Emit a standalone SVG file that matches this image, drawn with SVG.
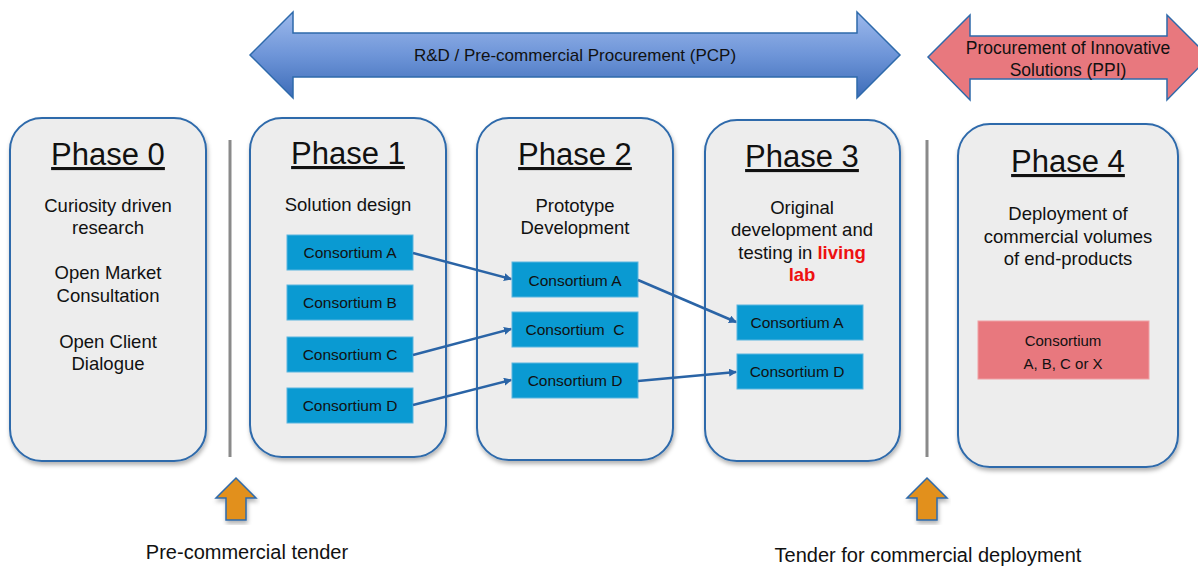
<svg xmlns="http://www.w3.org/2000/svg" width="1198" height="566" viewBox="0 0 1198 566">
<defs>
<linearGradient id="gb" x1="0" y1="0" x2="0" y2="1">
<stop offset="0" stop-color="#9DB9EC"/>
<stop offset="0.5" stop-color="#6E95D8"/>
<stop offset="1" stop-color="#3D6CB8"/>
</linearGradient>
<filter id="sh" x="-10%" y="-10%" width="120%" height="120%">
<feDropShadow dx="1" dy="3" stdDeviation="2" flood-color="#000" flood-opacity="0.3"/>
</filter>
<marker id="ah" markerWidth="8" markerHeight="8" refX="7" refY="4" orient="auto" markerUnits="userSpaceOnUse" viewBox="0 0 8 8">
<path d="M0,0 L8,4 L0,8 Z" fill="#2A64A6"/>
</marker>
</defs>
<style>
text{font-family:"Liberation Sans",Arial,sans-serif;fill:#111}
.phase{fill:#EDEDED;stroke:#2E6AAB;stroke-width:2}
.title{font-size:31px;text-anchor:middle;text-decoration:underline}
.desc{font-size:18.5px;text-anchor:middle}
.cons{fill:#0A9AD2;stroke:#5BB6E0;stroke-width:1}
.ct{font-size:15.5px;text-anchor:middle}
.sep{stroke:#8A8A8A;stroke-width:3}
.conn{stroke:#2A64A6;stroke-width:2.5;fill:none;marker-end:url(#ah)}
.up{fill:#E2901E;stroke:#2E6AAB;stroke-width:1.5}
</style>

<g id="pcp-arrow">
<path d="M250,55 L293,12 L293,33 L857,33 L857,12 L900,55 L857,98 L857,77 L293,77 L293,98 Z" fill="url(#gb)" stroke="#2E6AAB" stroke-width="1.5"/>
<text x="575" y="61" style="font-size:17px;text-anchor:middle">R&amp;D / Pre-commercial Procurement (PCP)</text>
</g>

<g id="ppi-arrow">
<path d="M928,57 L970,15 L970,36 L1167,36 L1167,15 L1209,57 L1167,100 L1167,79 L970,79 L970,100 Z" fill="#E8787E" stroke="#2E6AAB" stroke-width="1.5"/>
<text x="1068" y="54" style="font-size:17.5px;text-anchor:middle">Procurement of Innovative</text>
<text x="1068" y="76" style="font-size:17.5px;text-anchor:middle">Solutions (PPI)</text>
</g>

<g id="phase0">
<rect class="phase" x="10" y="118" width="196" height="343" rx="32" filter="url(#sh)"/>
<text class="title" x="108" y="165">Phase 0</text>
<text class="desc" x="108" y="212">Curiosity driven</text>
<text class="desc" x="108" y="234">research</text>
<text class="desc" x="108" y="279">Open Market</text>
<text class="desc" x="108" y="302">Consultation</text>
<text class="desc" x="108" y="348">Open Client</text>
<text class="desc" x="108" y="370">Dialogue</text>
</g>

<g id="phase1">
<rect class="phase" x="250" y="118" width="196" height="339" rx="32" filter="url(#sh)"/>
<text class="title" x="348" y="164">Phase 1</text>
<text class="desc" x="348" y="211">Solution design</text>
</g>
<g id="p1-consortium-a"><rect class="cons" x="287" y="235" width="126" height="35"/><text class="ct" x="350" y="258">Consortium A</text></g>
<g id="p1-consortium-b"><rect class="cons" x="287" y="285" width="126" height="35"/><text class="ct" x="350" y="308">Consortium B</text></g>
<g id="p1-consortium-c"><rect class="cons" x="287" y="337" width="126" height="35"/><text class="ct" x="350" y="360">Consortium C</text></g>
<g id="p1-consortium-d"><rect class="cons" x="287" y="388" width="126" height="35"/><text class="ct" x="350" y="411">Consortium D</text></g>

<g id="phase2">
<rect class="phase" x="477" y="118" width="196" height="342" rx="32" filter="url(#sh)"/>
<text class="title" x="575" y="165">Phase 2</text>
<text class="desc" x="575" y="212">Prototype</text>
<text class="desc" x="575" y="234">Development</text>
</g>
<g id="p2-consortium-a"><rect class="cons" x="512" y="262" width="126" height="35"/><text class="ct" x="575" y="286">Consortium A</text></g>
<g id="p2-consortium-c"><rect class="cons" x="512" y="312" width="126" height="35"/><text class="ct" x="575" y="335" xml:space="preserve">Consortium  C</text></g>
<g id="p2-consortium-d"><rect class="cons" x="512" y="363" width="126" height="35"/><text class="ct" x="575" y="386">Consortium D</text></g>

<g id="phase3">
<rect class="phase" x="705" y="120" width="195" height="341" rx="32" filter="url(#sh)"/>
<text class="title" x="802" y="167">Phase 3</text>
<text class="desc" x="802" y="214">Original</text>
<text class="desc" x="802" y="236">development and</text>
<text class="desc" x="802" y="259">testing in <tspan style="fill:#EE1111;font-weight:bold">living</tspan></text>
<text class="desc" x="802" y="281" style="fill:#EE1111;font-weight:bold">lab</text>
</g>
<g id="p3-consortium-a"><rect class="cons" x="737" y="305" width="126" height="35"/><text class="ct" x="797" y="328">Consortium A</text></g>
<g id="p3-consortium-d"><rect class="cons" x="737" y="354" width="126" height="35"/><text class="ct" x="797" y="377">Consortium D</text></g>

<g id="phase4">
<rect class="phase" x="958" y="124" width="220" height="343" rx="32" filter="url(#sh)"/>
<text class="title" x="1068" y="172">Phase 4</text>
<text class="desc" x="1068" y="220">Deployment of</text>
<text class="desc" x="1068" y="243">commercial volumes</text>
<text class="desc" x="1068" y="265">of end-products</text>
</g>
<g id="p4-consortium"><rect x="978" y="321" width="171" height="58" fill="#E8787E" stroke="#F0A0A4" stroke-width="1"/>
<text class="ct" x="1063" y="346" style="font-size:15px">Consortium</text>
<text class="ct" x="1063" y="369" style="font-size:15px">A, B, C or X</text></g>

<g id="separators">
<line class="sep" x1="230" y1="140" x2="230" y2="457"/>
<line class="sep" x1="927" y1="140" x2="927" y2="457"/>
</g>

<g id="connectors">
<line class="conn" x1="413" y1="253" x2="511" y2="279"/>
<line class="conn" x1="413" y1="355" x2="511" y2="329"/>
<line class="conn" x1="413" y1="405" x2="511" y2="380"/>
<line class="conn" x1="638" y1="280" x2="736" y2="322"/>
<line class="conn" x1="638" y1="381" x2="736" y2="372"/>
</g>

<g id="tender-pcp">
<path class="up" d="M236,478 L256,498 L246,498 L246,520 L226,520 L226,498 L216,498 Z" filter="url(#sh)"/>
<text x="247" y="559" style="font-size:20px;text-anchor:middle">Pre-commercial tender</text>
</g>
<g id="tender-ppi">
<path class="up" d="M927,478 L947,498 L937,498 L937,520 L917,520 L917,498 L907,498 Z" filter="url(#sh)"/>
<text x="928" y="562" style="font-size:20px;text-anchor:middle">Tender for commercial deployment</text>
</g>
</svg>
